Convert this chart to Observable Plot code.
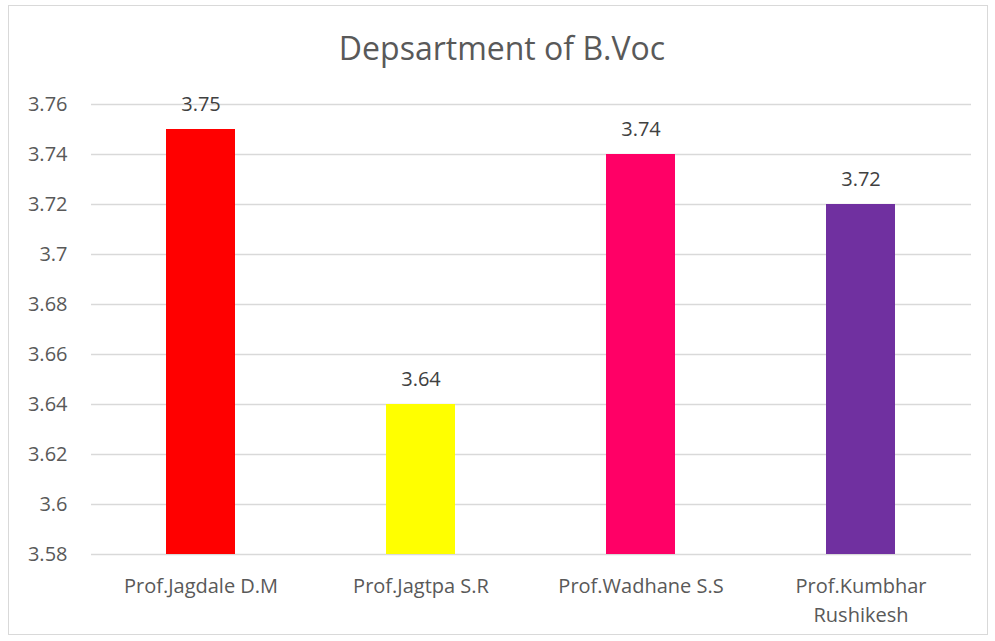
<!DOCTYPE html>
<html>
<head>
<meta charset="utf-8">
<script src="https://cdn.jsdelivr.net/npm/d3@7"></script>
<script src="https://cdn.jsdelivr.net/npm/@observablehq/plot@0.6"></script>
<style>
  html, body { margin: 0; padding: 0; background: #fff; }
  #wrap { position: relative; width: 995px; height: 641px; overflow: hidden; }
  #frame { position: absolute; left: 8px; top: 5px; width: 980px; height: 630px; border: 1px solid #d9d9d9; box-sizing: border-box; }
  #title { position: absolute; left: 0; width: 1004px; top: 26px; text-align: center; font-family: "Open Sans", sans-serif; font-size: 32px; color: #595959; }
  #chart { position: absolute; left: 0; top: 0; }
</style>
</head>
<body>
<div id="wrap">
  <div id="frame"></div>
  <div id="title">Depsartment of B.Voc</div>
  <div id="chart"></div>
</div>
<script>
const names = ["Prof.Jagdale D.M", "Prof.Jagtpa S.R", "Prof.Wadhane S.S", "Prof.Kumbhar\nRushikesh"];
const scores = [3.75, 3.64, 3.74, 3.72];
const colors = ["#FF0000", "#FFFF00", "#FF0066", "#7030A0"];
const yTicks = [3.58, 3.6, 3.62, 3.64, 3.66, 3.68, 3.7, 3.72, 3.74, 3.76];

const data = names.map((n, i) => ({name: n, score: scores[i], color: colors[i]}));
const fmt = d => String(+d.toFixed(2));

const chart = Plot.plot({
  width: 995,
  height: 641,
  marginLeft: 91,
  marginRight: 24,
  marginTop: 104,
  marginBottom: 87,
  style: {fontFamily: "Open Sans, sans-serif", fontSize: "20px", color: "#595959", background: "transparent"},
  x: {domain: names, paddingInner: 0.686, paddingOuter: 0.343, label: null, tickSize: 0},
  y: {domain: [3.58, 3.76], ticks: yTicks, tickFormat: fmt, label: null, tickSize: 0},
  marks: [
    Plot.gridY(yTicks, {stroke: "#d9d9d9", strokeOpacity: 1, strokeWidth: 1.5}),
    Plot.barY(data, {x: "name", y1: 3.58, y2: "score", fill: "color"}),
    Plot.text(data, {x: "name", y: "score", text: d => fmt(d.score), dy: -25, fill: "#404040", fontSize: 20}),
    Plot.axisY(yTicks, {tickFormat: fmt, tickSize: 0, tickPadding: 24, fontSize: 20, fill: "#595959"}),
    Plot.axisX({tickSize: 0, tickPadding: 18, fontSize: 20, fill: "#595959", lineHeight: 1.45})
  ]
});
document.getElementById("chart").appendChild(chart);
</script>
</body>
</html>
